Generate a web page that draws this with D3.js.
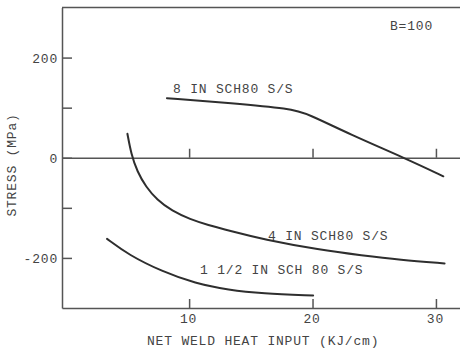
<!DOCTYPE html>
<html>
<head>
<meta charset="utf-8">
<script src="https://cdn.jsdelivr.net/npm/d3@7/dist/d3.min.js"></script>
<style>
  html, body { margin: 0; padding: 0; background: #fff; }
  svg { display: block; }
  text { font-family: "Liberation Mono", "DejaVu Sans Mono", monospace; font-size: 13px; letter-spacing: 0.8px; fill: #444; }
</style>
</head>
<body>
<div id="chart"></div>
<script>
// heat input (KJ/cm) and stress (MPa)
const pipe8X = [8.2, 13.5, 18.2, 19.6, 23.0, 27.6, 30.6];
const pipe8Y = [119, 109, 98, 88, 47, -2, -37];

const pipe4X = [5.0, 5.3, 5.8, 6.5, 7.4, 8.6, 10.1, 11.5, 13.3, 16.0, 20.6, 24.0, 27.1, 30.7];
const pipe4Y = [48, 8, -28, -58, -84, -106, -123, -134, -146, -163, -184, -195, -204, -211];

const pipe15X = [3.35, 5.1, 7.8, 10.5, 13.2, 15.9, 20.05];
const pipe15Y = [-162, -194, -227, -251, -264, -271, -275];

const xTicks = [10, 20, 30];
const yTicks = [-200, -100, 0, 100, 200];
const yTickLabels = [-200, 0, 200];

const width = 460, height = 349;

const svg = d3.select("#chart").append("svg")
  .attr("width", width)
  .attr("height", height);

const x = d3.scaleLinear().domain([-0.3, 31.95]).range([62, 460]);
const y = d3.scaleLinear().domain([-300, 300]).range([308, 7.5]);

// frame top
svg.append("line")
  .attr("x1", x(-0.3)).attr("x2", x(31.95))
  .attr("y1", y(300)).attr("y2", y(300))
  .attr("stroke", "#555").attr("stroke-width", 1.5);

// left axis, ticks point inward
const yAxis = svg.append("g")
  .attr("transform", `translate(${x(-0.3)},0)`)
  .call(d3.axisLeft(y).tickValues(yTicks).tickSizeInner(-10).tickSizeOuter(0).tickPadding(4)
    .tickFormat(d => yTickLabels.includes(d) ? String(d) : ""));

// bottom axis, ticks point up
const xAxis = svg.append("g")
  .attr("transform", `translate(0,${y(-300)})`)
  .call(d3.axisBottom(x).tickValues(xTicks).tickSizeInner(-9).tickSizeOuter(0).tickFormat(d => String(d)));

// zero line with its own little ticks
const zeroAxis = svg.append("g")
  .attr("transform", `translate(0,${y(0)})`)
  .call(d3.axisBottom(x).tickValues(xTicks).tickSizeInner(-9).tickSizeOuter(0).tickFormat(""));

[yAxis, xAxis, zeroAxis].forEach(g => {
  g.select(".domain").attr("stroke", "#555").attr("stroke-width", 1.5);
  g.selectAll(".tick line").attr("stroke", "#555").attr("stroke-width", 1.5);
  g.selectAll("text").attr("font-family", null).attr("font-size", null).attr("fill", "#444");
});
yAxis.selectAll("text").attr("dy", "0.35em");
xAxis.selectAll("text").attr("y", 15).attr("dy", 0).attr("dx", "-1");

const line = d3.line()
  .x(d => x(d[0]))
  .y(d => y(d[1]))
  .curve(d3.curveBasis);

const seriesList = [
  { xs: pipe8X, ys: pipe8Y },
  { xs: pipe4X, ys: pipe4Y },
  { xs: pipe15X, ys: pipe15Y }
];

svg.append("g").selectAll("path")
  .data(seriesList)
  .enter().append("path")
  .attr("d", s => line(s.xs.map((v, i) => [v, s.ys[i]])))
  .attr("fill", "none")
  .attr("stroke", "#2e2e2e")
  .attr("stroke-width", 2)
  .attr("stroke-linecap", "round");

// curve labels
const labels = [
  { text: "8 IN SCH80 S/S", x: 173, y: 93 },
  { text: "4 IN SCH80 S/S", x: 268, y: 240 },
  { text: "1 1/2 IN SCH 80 S/S", x: 200, y: 274 },
  { text: "B=100", x: 390, y: 30 }
];
svg.append("g").selectAll("text")
  .data(labels)
  .enter().append("text")
  .attr("x", d => d.x)
  .attr("y", d => d.y)
  .text(d => d.text);

// axis titles
svg.append("text")
  .attr("x", 147)
  .attr("y", 345)
  .text("NET WELD HEAT INPUT (KJ/cm)");

svg.append("text")
  .attr("transform", "translate(16,165) rotate(-90)")
  .attr("text-anchor", "middle")
  .text("STRESS (MPa)");
</script>
</body>
</html>
